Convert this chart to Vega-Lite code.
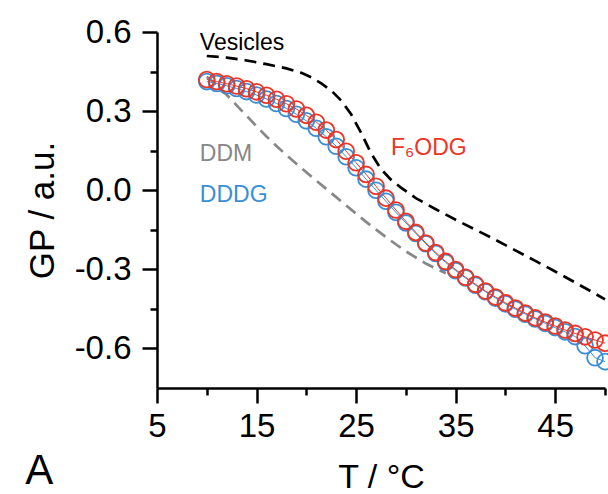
{
  "$schema": "https://vega.github.io/schema/vega-lite/v6.json",
  "autosize": "none",
  "width": 448,
  "height": 356,
  "padding": {"left": 157, "top": 32, "right": 3, "bottom": 106},
  "background": "white",
  "config": {
    "view": {"stroke": null},
    "font": "Liberation Sans",
    "axis": {"grid": false, "domainColor": "black", "tickColor": "black", "domainWidth": 2.5, "tickWidth": 2.5, "labelColor": "black", "titleColor": "black", "labelFont": "Liberation Sans", "titleFont": "Liberation Sans", "titleFontWeight": "normal"}
  },
  "title": {"text": "A", "orient": "bottom", "anchor": "start", "frame": "bounds", "fontSize": 42, "fontWeight": "normal", "font": "Liberation Sans", "color": "black", "offset": -43},
  "datasets": {
    "dots": [
      {"T": 10, "GP": 0.412, "series": "DDDG"}, {"T": 11, "GP": 0.405, "series": "DDDG"}, {"T": 12, "GP": 0.396, "series": "DDDG"}, {"T": 13, "GP": 0.386, "series": "DDDG"}, {"T": 14, "GP": 0.374, "series": "DDDG"}, {"T": 15, "GP": 0.361, "series": "DDDG"}, {"T": 16, "GP": 0.346, "series": "DDDG"}, {"T": 17, "GP": 0.329, "series": "DDDG"}, {"T": 18, "GP": 0.31, "series": "DDDG"}, {"T": 19, "GP": 0.288, "series": "DDDG"}, {"T": 20, "GP": 0.263, "series": "DDDG"}, {"T": 21, "GP": 0.235, "series": "DDDG"}, {"T": 22, "GP": 0.203, "series": "DDDG"}, {"T": 23, "GP": 0.167, "series": "DDDG"}, {"T": 24, "GP": 0.127, "series": "DDDG"}, {"T": 25, "GP": 0.085, "series": "DDDG"}, {"T": 26, "GP": 0.042, "series": "DDDG"}, {"T": 27, "GP": 0.0, "series": "DDDG"}, {"T": 28, "GP": -0.042, "series": "DDDG"}, {"T": 29, "GP": -0.084, "series": "DDDG"}, {"T": 30, "GP": -0.124, "series": "DDDG"}, {"T": 31, "GP": -0.164, "series": "DDDG"}, {"T": 32, "GP": -0.203, "series": "DDDG"}, {"T": 33, "GP": -0.24, "series": "DDDG"}, {"T": 34, "GP": -0.274, "series": "DDDG"}, {"T": 35, "GP": -0.305, "series": "DDDG"}, {"T": 36, "GP": -0.333, "series": "DDDG"}, {"T": 37, "GP": -0.36, "series": "DDDG"}, {"T": 38, "GP": -0.385, "series": "DDDG"}, {"T": 39, "GP": -0.409, "series": "DDDG"}, {"T": 40, "GP": -0.431, "series": "DDDG"}, {"T": 41, "GP": -0.451, "series": "DDDG"}, {"T": 42, "GP": -0.47, "series": "DDDG"}, {"T": 43, "GP": -0.488, "series": "DDDG"}, {"T": 44, "GP": -0.505, "series": "DDDG"}, {"T": 45, "GP": -0.521, "series": "DDDG"}, {"T": 46, "GP": -0.537, "series": "DDDG"}, {"T": 47, "GP": -0.555, "series": "DDDG"}, {"T": 48, "GP": -0.59, "series": "DDDG"}, {"T": 49, "GP": -0.635, "series": "DDDG"}, {"T": 50, "GP": -0.65, "series": "DDDG"},
      {"T": 10, "GP": 0.42, "series": "F6ODG"}, {"T": 11, "GP": 0.412, "series": "F6ODG"}, {"T": 12, "GP": 0.404, "series": "F6ODG"}, {"T": 13, "GP": 0.395, "series": "F6ODG"}, {"T": 14, "GP": 0.385, "series": "F6ODG"}, {"T": 15, "GP": 0.373, "series": "F6ODG"}, {"T": 16, "GP": 0.36, "series": "F6ODG"}, {"T": 17, "GP": 0.345, "series": "F6ODG"}, {"T": 18, "GP": 0.328, "series": "F6ODG"}, {"T": 19, "GP": 0.308, "series": "F6ODG"}, {"T": 20, "GP": 0.284, "series": "F6ODG"}, {"T": 21, "GP": 0.258, "series": "F6ODG"}, {"T": 22, "GP": 0.228, "series": "F6ODG"}, {"T": 23, "GP": 0.192, "series": "F6ODG"}, {"T": 24, "GP": 0.148, "series": "F6ODG"}, {"T": 25, "GP": 0.104, "series": "F6ODG"}, {"T": 26, "GP": 0.06, "series": "F6ODG"}, {"T": 27, "GP": 0.015, "series": "F6ODG"}, {"T": 28, "GP": -0.03, "series": "F6ODG"}, {"T": 29, "GP": -0.075, "series": "F6ODG"}, {"T": 30, "GP": -0.118, "series": "F6ODG"}, {"T": 31, "GP": -0.16, "series": "F6ODG"}, {"T": 32, "GP": -0.2, "series": "F6ODG"}, {"T": 33, "GP": -0.236, "series": "F6ODG"}, {"T": 34, "GP": -0.27, "series": "F6ODG"}, {"T": 35, "GP": -0.301, "series": "F6ODG"}, {"T": 36, "GP": -0.33, "series": "F6ODG"}, {"T": 37, "GP": -0.357, "series": "F6ODG"}, {"T": 38, "GP": -0.382, "series": "F6ODG"}, {"T": 39, "GP": -0.405, "series": "F6ODG"}, {"T": 40, "GP": -0.427, "series": "F6ODG"}, {"T": 41, "GP": -0.447, "series": "F6ODG"}, {"T": 42, "GP": -0.466, "series": "F6ODG"}, {"T": 43, "GP": -0.484, "series": "F6ODG"}, {"T": 44, "GP": -0.5, "series": "F6ODG"}, {"T": 45, "GP": -0.515, "series": "F6ODG"}, {"T": 46, "GP": -0.53, "series": "F6ODG"}, {"T": 47, "GP": -0.543, "series": "F6ODG"}, {"T": 48, "GP": -0.556, "series": "F6ODG"}, {"T": 49, "GP": -0.568, "series": "F6ODG"}, {"T": 50, "GP": -0.58, "series": "F6ODG"}
    ],
    "vesicles": [
      {"T": 10, "GP": 0.509}, {"T": 12, "GP": 0.503}, {"T": 14, "GP": 0.492}, {"T": 16, "GP": 0.478}, {"T": 18, "GP": 0.462}, {"T": 19.5, "GP": 0.445}, {"T": 20.5, "GP": 0.428}, {"T": 21.5, "GP": 0.405}, {"T": 22.5, "GP": 0.378}, {"T": 23.5, "GP": 0.34}, {"T": 24.5, "GP": 0.288}, {"T": 25.5, "GP": 0.218}, {"T": 26.5, "GP": 0.14}, {"T": 27.5, "GP": 0.08}, {"T": 28.5, "GP": 0.04}, {"T": 29.5, "GP": 0.01}, {"T": 31, "GP": -0.03}, {"T": 33, "GP": -0.072}, {"T": 35, "GP": -0.112}, {"T": 37, "GP": -0.15}, {"T": 39, "GP": -0.188}, {"T": 41, "GP": -0.228}, {"T": 43, "GP": -0.268}, {"T": 45, "GP": -0.308}, {"T": 47, "GP": -0.35}, {"T": 49, "GP": -0.392}, {"T": 50, "GP": -0.414}
    ],
    "ddm": [
      {"T": 10, "GP": 0.43}, {"T": 11, "GP": 0.4}, {"T": 12, "GP": 0.362}, {"T": 13, "GP": 0.322}, {"T": 14, "GP": 0.282}, {"T": 15, "GP": 0.242}, {"T": 16, "GP": 0.204}, {"T": 17, "GP": 0.168}, {"T": 18, "GP": 0.133}, {"T": 20, "GP": 0.068}, {"T": 22, "GP": 0.005}, {"T": 24, "GP": -0.058}, {"T": 26, "GP": -0.12}, {"T": 28, "GP": -0.178}, {"T": 30, "GP": -0.232}, {"T": 32, "GP": -0.278}, {"T": 34, "GP": -0.315}
    ],
    "labels": [
      {"T": 9.3, "GP": 0.532, "label": "Vesicles", "series": "Vesicles"},
      {"T": 9.3, "GP": 0.111, "label": "DDM", "series": "DDM"},
      {"T": 9.3, "GP": -0.045, "label": "DDDG", "series": "DDDG"},
      {"T": 28.5, "GP": 0.134, "label": "F₆ODG", "series": "F6ODG"}
    ]
  },
  "encoding": {
    "x": {"field": "T", "type": "quantitative", "scale": {"domain": [5, 50], "nice": false, "zero": false}},
    "y": {"field": "GP", "type": "quantitative", "scale": {"domain": [-0.75, 0.6], "nice": false, "zero": false}}
  },
  "layer": [
    {
      "data": {"name": "vesicles"},
      "mark": {"type": "line", "color": "black", "strokeWidth": 2.7, "strokeDash": [12, 7]},
      "encoding": {
        "x": {"field": "T", "type": "quantitative", "axis": {"orient": "bottom", "values": [5, 15, 25, 35, 45], "tickSize": 15, "labelFontSize": 33, "labelPadding": 7, "title": "T / °C", "titleFontSize": 34, "titlePadding": 17, "labelFlush": false}},
        "y": {"field": "GP", "type": "quantitative", "axis": {"orient": "left", "values": [-0.6, -0.3, 0, 0.3, 0.6], "labelExpr": "replace(format(datum.value, '.1f'), '\u2212', '-')", "tickSize": 15, "labelFontSize": 33, "labelPadding": 11, "title": "GP / a.u.", "titleFontSize": 35, "titlePadding": 14, "labelFlush": false}}
      }
    },
    {
      "data": {"name": "ddm"},
      "mark": {"type": "line", "color": "#878787", "strokeWidth": 2.7, "strokeDash": [12, 7]},
      "encoding": {
        "x": {"field": "T", "type": "quantitative", "axis": null},
        "y": {"field": "GP", "type": "quantitative", "axis": null}
      }
    },
    {
      "data": {"name": "dots"},
      "mark": {"type": "line", "strokeWidth": 1},
      "encoding": {
        "x": {"field": "T", "type": "quantitative", "axis": null},
        "y": {"field": "GP", "type": "quantitative", "axis": null},
        "detail": {"field": "series"},
        "color": {"field": "series", "type": "nominal", "scale": {"domain": ["DDDG", "F6ODG", "DDM", "Vesicles"], "range": ["#3a8fd4", "#ec3526", "#878787", "#000000"]}, "legend": null}
      }
    },
    {
      "data": {"name": "dots"},
      "mark": {"type": "point", "shape": "circle", "filled": false, "size": 250, "strokeWidth": 1.8, "opacity": 1},
      "encoding": {
        "x": {"field": "T", "type": "quantitative", "axis": null},
        "y": {"field": "GP", "type": "quantitative", "axis": null},
        "color": {"field": "series", "type": "nominal", "scale": {"domain": ["DDDG", "F6ODG", "DDM", "Vesicles"], "range": ["#3a8fd4", "#ec3526", "#878787", "#000000"]}, "legend": null},
        "order": {"field": "series", "sort": "ascending"}
      }
    },
    {
      "data": {"name": "labels"},
      "mark": {"type": "text", "align": "left", "baseline": "alphabetic", "fontSize": 23, "font": "Liberation Sans"},
      "encoding": {
        "x": {"field": "T", "type": "quantitative", "axis": null},
        "y": {"field": "GP", "type": "quantitative", "axis": null},
        "text": {"field": "label"},
        "color": {"field": "series", "type": "nominal", "scale": {"domain": ["DDDG", "F6ODG", "DDM", "Vesicles"], "range": ["#3a8fd4", "#ec3526", "#878787", "#000000"]}, "legend": null}
      }
    },
    {
      "data": {"name": "dots"},
      "mark": {"type": "point", "opacity": 0},
      "encoding": {
        "x": {"field": "T", "type": "quantitative", "axis": {"orient": "bottom", "values": [10, 20, 30, 40, 50], "tickSize": 7, "labels": false, "domain": false, "title": null}},
        "y": {"field": "GP", "type": "quantitative", "axis": {"orient": "left", "values": [-0.45, -0.15, 0.15, 0.45], "tickSize": 7, "labels": false, "domain": false, "title": null}}
      }
    }
  ],
  "resolve": {"axis": {"x": "independent", "y": "independent"}}
}
